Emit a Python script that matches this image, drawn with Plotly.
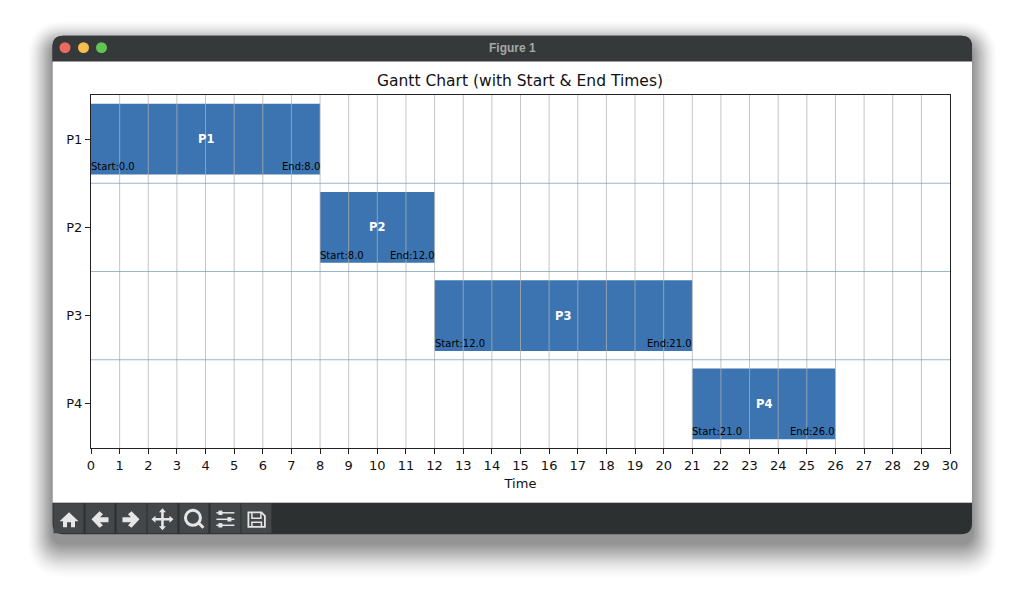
import plotly.graph_objects as go

# Data
processes = ["P1", "P2", "P3", "P4"]
starts = [0.0, 8.0, 12.0, 21.0]
ends = [8.0, 12.0, 21.0, 26.0]
x_ticks = list(range(0, 31))
row_bounds = [0.5, 1.5, 2.5]
title = "Gantt Chart (with Start & End Times)"

FONT = "DejaVu Sans"
L, R, T, B = 90.5, 950.0, 94.5, 448.5
BAR = "#3b74b0"

def px(x):
    return (x - L) / (R - L)

def py(y):
    return (B - y) / (B - T)

def poly(points, close=True):
    s = "M" + " L".join(f"{px(x):.5f},{py(y):.5f}" for x, y in points)
    return s + (" Z" if close else "")

def rrect(x0, y0, x1, y1, r):
    top = (r, r, 0, 0)
    r_tl, r_tr = r, r
    def p(x, y):
        return f"{px(x):.5f},{py(y):.5f}"
    return (f"M{p(x0+r,y0)} L{p(x1-r,y0)} Q{p(x1,y0)} {p(x1,y0+r)} L{p(x1,y1-r)} "
            f"Q{p(x1,y1)} {p(x1-r,y1)} L{p(x0+r,y1)} Q{p(x0,y1)} {p(x0,y1-r)} "
            f"L{p(x0,y0+r)} Q{p(x0,y0)} {p(x0+r,y0)} Z")

shapes = []

def add_path(path, fill="rgba(0,0,0,0)", line=None, width=0, opacity=1.0):
    shapes.append(dict(type="path", xref="paper", yref="paper", path=path, fillcolor=fill,
                       line=dict(color=line or "rgba(0,0,0,0)", width=width),
                       opacity=opacity, layer="below"))

# window shadow
for i in range(26, 0, -1):
    a = 0.032 * (1 - i / 27) ** 0.7
    add_path(rrect(52 - i, 35 + 9 - i * 0.95, 972 + i, 535 + 9 + i * 1.35, 12 + i),
             fill="#000000", opacity=a)

# window body
add_path(rrect(52, 35, 972, 535, 11), fill="#2c3030")
add_path(rrect(52, 35, 972, 72, 11), fill="#36393a")
shapes.append(dict(type="rect", xref="paper", yref="paper", x0=px(52), x1=px(972), y0=py(503), y1=py(61),
                   fillcolor="white", line=dict(width=0), layer="below"))
shapes.append(dict(type="rect", xref="paper", yref="paper", x0=px(52), x1=px(972), y0=py(503.6), y1=py(502.6),
                   fillcolor="#c0c0c0", line=dict(width=0), layer="below"))

for cx, col in [(64.5, "#ec6a5e"), (83, "#f4bf4f"), (101, "#61c554")]:
    shapes.append(dict(type="circle", xref="paper", yref="paper", x0=px(cx - 5.5), x1=px(cx + 5.5),
                       y0=py(52.5), y1=py(41.5), fillcolor=col, line=dict(width=0), layer="below"))

# toolbar buttons
for x0, x1 in [(53, 83), (85, 114), (116, 146), (147, 177), (179, 208), (210, 240), (241, 271)]:
    shapes.append(dict(type="rect", xref="paper", yref="paper", x0=px(x0), x1=px(x1), y0=py(534), y1=py(504),
                       fillcolor="#43474a", line=dict(width=0), layer="below"))

ICON = "#e6e6e6"
# home
add_path(poly([(68.5, 513), (78, 522), (74.5, 522), (74.5, 528), (70.5, 528), (70.5, 523), (66.5, 523),
               (66.5, 528), (62.5, 528), (62.5, 522), (59, 522)]), fill=ICON)
# arrows
left = [(91, 520), (99, 512), (102.5, 515), (99.5, 518), (108, 518), (108, 523), (99.5, 523), (102.5, 526), (99, 528.5)]
add_path(poly(left), fill=ICON)
add_path(poly([(230 - x, y) for x, y in left]), fill=ICON)
# move
cx, cy = 162, 520
add_path(poly([(cx - 1.3, cy - 1.3), (cx - 1.3, cy - 7), (cx - 3.5, cy - 7), (cx, cy - 11), (cx + 3.5, cy - 7),
               (cx + 1.3, cy - 7), (cx + 1.3, cy - 1.3), (cx + 7, cy - 1.3), (cx + 7, cy - 3.5), (cx + 11, cy),
               (cx + 7, cy + 3.5), (cx + 7, cy + 1.3), (cx + 1.3, cy + 1.3), (cx + 1.3, cy + 7), (cx + 3.5, cy + 7),
               (cx, cy + 11), (cx - 3.5, cy + 7), (cx - 1.3, cy + 7), (cx - 1.3, cy + 1.3), (cx - 7, cy + 1.3),
               (cx - 7, cy + 3.5), (cx - 11, cy), (cx - 7, cy - 3.5), (cx - 7, cy - 1.3)]), fill=ICON)
# zoom
shapes.append(dict(type="circle", xref="paper", yref="paper", x0=px(185), x1=px(200), y0=py(526), y1=py(511),
                   fillcolor="rgba(0,0,0,0)", line=dict(color=ICON, width=3), layer="below"))
add_path(poly([(198, 523.5), (203, 528.5)], close=False), line=ICON, width=3)
# sliders
for yy, kx in [(513.5, 220), (520, 229), (526, 220)]:
    add_path(poly([(216, yy), (234, yy)], close=False), line=ICON, width=1.5)
    shapes.append(dict(type="rect", xref="paper", yref="paper", x0=px(kx - 2), x1=px(kx + 2), y0=py(yy + 2.2),
                       y1=py(yy - 2.2), fillcolor=ICON, line=dict(width=0), layer="below"))
# save
add_path(poly([(248, 513), (261, 513), (264.5, 516.5), (264.5, 527.5), (248, 527.5)]), line=ICON, width=1.8)
add_path(poly([(251.5, 513), (251.5, 519), (260.5, 519), (260.5, 513)], close=False), line=ICON, width=1.5)
add_path(poly([(251.5, 527.5), (251.5, 523), (261, 523), (261, 527.5)], close=False), line=ICON, width=1.5)

# grid above bars
for t in x_ticks:
    if 0 < t < x_ticks[-1]:
        shapes.append(dict(type="line", xref="x", yref="paper", x0=t, x1=t, y0=0, y1=1,
                           line=dict(color="rgba(176,176,176,0.75)", width=1), layer="above"))
for yb in row_bounds:
    shapes.append(dict(type="line", xref="paper", yref="y", x0=0, x1=1, y0=yb, y1=yb,
                       line=dict(color="rgba(120,155,195,0.75)", width=1), layer="above"))

fig = go.Figure(go.Bar(
    y=list(range(len(processes))), x=[e - s for s, e in zip(starts, ends)], base=starts,
    orientation="h", width=0.8, marker=dict(color=BAR, line=dict(width=0)), hoverinfo="skip"))

anns = []
for i, (p, s, e) in enumerate(zip(processes, starts, ends)):
    anns.append(dict(x=(s + e) / 2, y=i, text=f"<b>{p}</b>", showarrow=False, xanchor="center", yanchor="middle",
                     font=dict(family=FONT, size=11.5, color="white")))
    anns.append(dict(x=s, y=i + 0.4, text=f"Start:{s}", showarrow=False, xanchor="left", yanchor="bottom",
                     xshift=-2, yshift=0, font=dict(family=FONT, size=10, color="black")))
    anns.append(dict(x=e, y=i + 0.4, text=f"End:{e}", showarrow=False, xanchor="right", yanchor="bottom",
                     xshift=2, yshift=0, font=dict(family=FONT, size=10, color="black")))
anns.append(dict(xref="paper", yref="paper", x=px(512), y=py(47.5), text="<b>Figure 1</b>", showarrow=False,
                 xanchor="center", yanchor="middle", font=dict(family="Liberation Sans", size=12, color="#a5a7a8")))

fig.update_layout(
    width=1024, height=604, autosize=False, showlegend=False,
    margin=dict(l=L, r=1024 - R, t=T, b=604 - B, pad=0),
    paper_bgcolor="white", plot_bgcolor="rgba(0,0,0,0)",
    font=dict(family=FONT, size=13, color="#111111"),
    title=dict(text=title, x=520 / 1024, xanchor="center", y=1 - 81 / 604, yanchor="middle",
               font=dict(family=FONT, size=15.5, color="#111111")),
    xaxis=dict(range=[x_ticks[0], x_ticks[-1]], tickvals=x_ticks, ticktext=[str(t) for t in x_ticks],
               ticks="outside", ticklen=5, tickwidth=1, tickcolor="#222", showgrid=False, zeroline=False,
               showline=True, linecolor="#222", linewidth=1, mirror=True,
               title=dict(text="Time", standoff=7, font=dict(size=13))),
    yaxis=dict(range=[3.5, -0.5], tickvals=list(range(len(processes))), ticktext=processes,
               ticks="outside", ticklen=5, tickwidth=1, tickcolor="#222", showgrid=False, zeroline=False,
               showline=True, linecolor="#222", linewidth=1, mirror=True),
    shapes=shapes, annotations=anns,
)

fig.write_html("out.html", config={"displayModeBar": False},
               post_script="document.body.style.margin='0';document.documentElement.style.overflow='hidden';")
